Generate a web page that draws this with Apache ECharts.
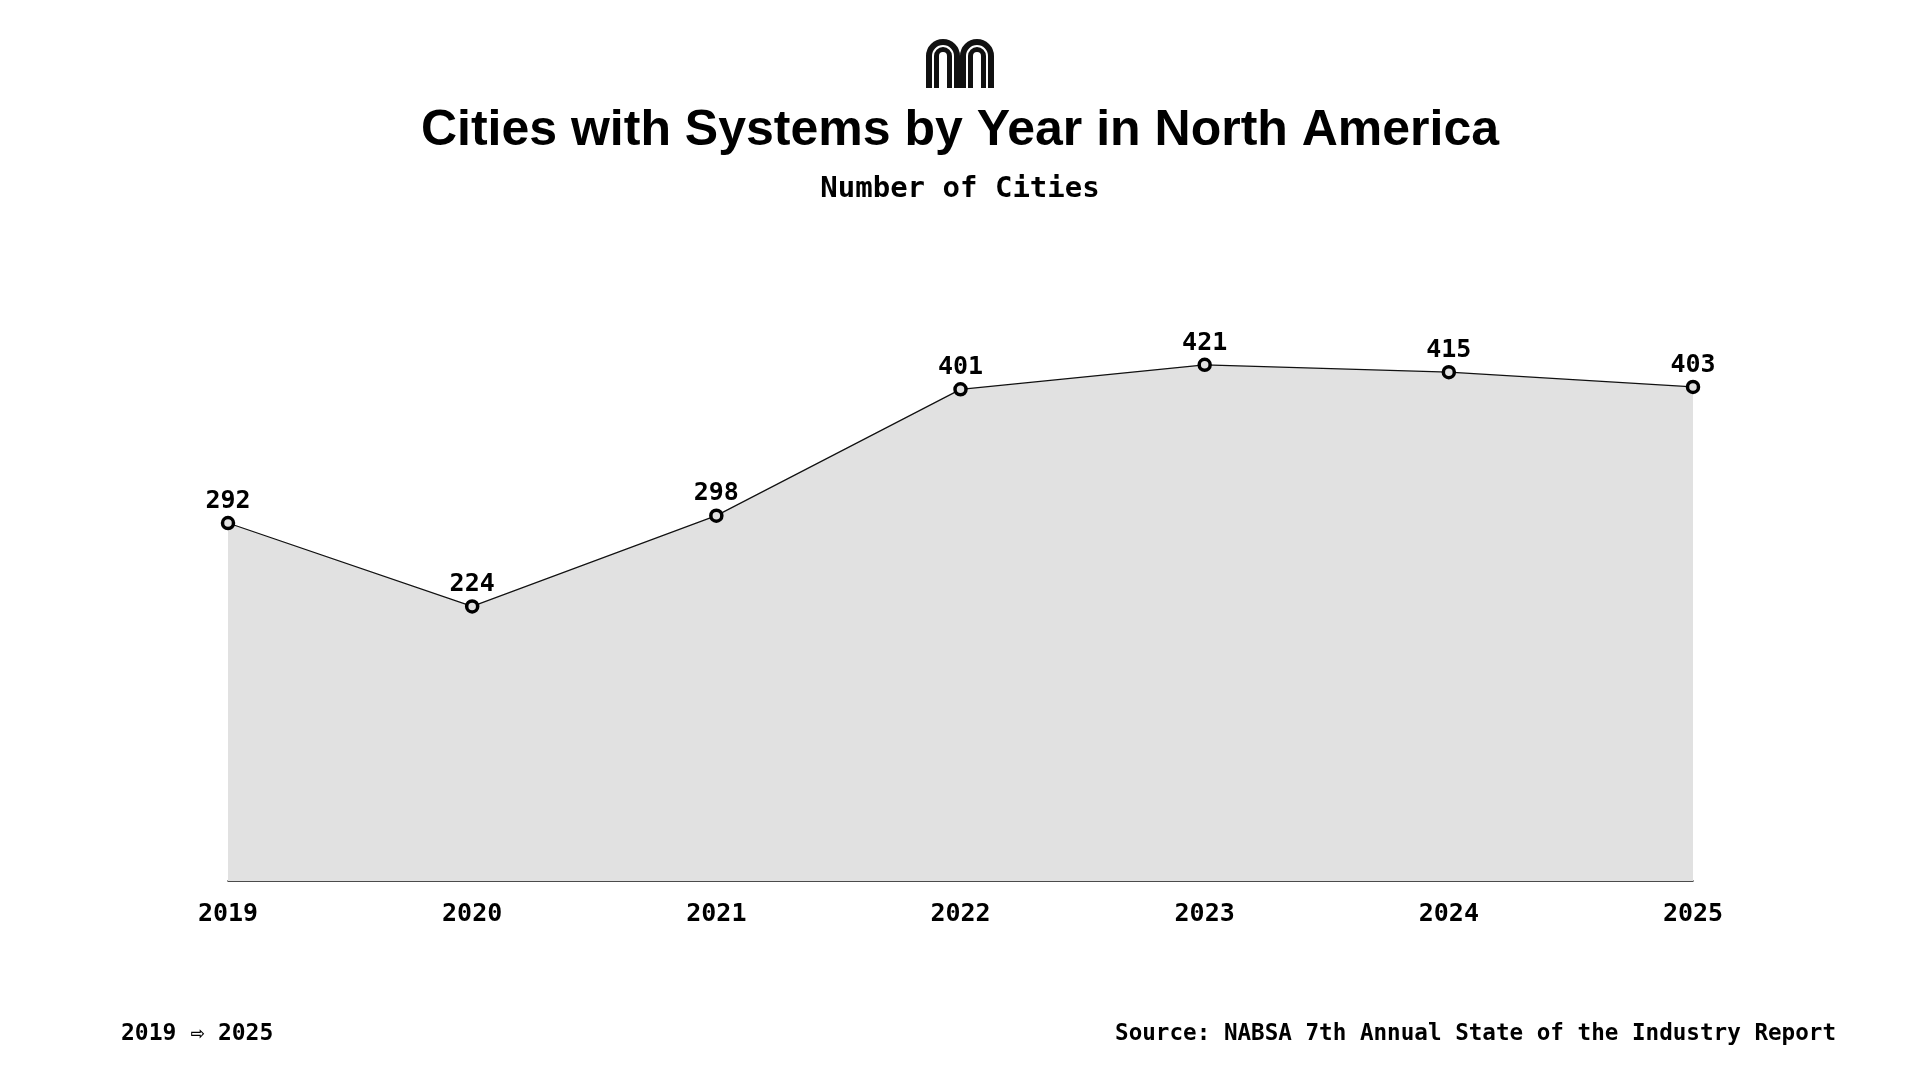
<!DOCTYPE html>
<html>
<head>
<meta charset="utf-8">
<title>Cities with Systems by Year in North America</title>
<script src="https://cdn.jsdelivr.net/npm/echarts@6/dist/echarts.min.js"></script>
<style>
  html, body { margin: 0; padding: 0; background: #fff; }
  #chart { width: 1920px; height: 1080px; }
</style>
</head>
<body>
<div id="chart"></div>
<script>
const years = ['2019', '2020', '2021', '2022', '2023', '2024', '2025'];
const cities = [292, 224, 298, 401, 421, 415, 403];

const mono = '"DejaVu Sans Mono", "Liberation Mono", monospace';
const sans = '"Liberation Sans", Arial, sans-serif';

// logo: two humps, each an outer and an inner arch with legs
function hump(cx, r, w) {
  const style = { fill: null, stroke: '#111', lineWidth: w };
  return [
    { type: 'arc', shape: { cx: cx, cy: 56, r: r, startAngle: Math.PI, endAngle: Math.PI * 2, clockwise: true }, style: style },
    { type: 'line', shape: { x1: cx - r, y1: 56, x2: cx - r, y2: 88 }, style: style },
    { type: 'line', shape: { x1: cx + r, y1: 56, x2: cx + r, y2: 88 }, style: style },
  ];
}

const logo = [].concat(
  hump(943, 14, 6), hump(977, 14, 6),
  hump(943, 6.5, 5), hump(977, 6.5, 5)
);

const chartDom = document.getElementById('chart');
const myChart = echarts.init(chartDom);
const option = {
  backgroundColor: '#fff',
  animation: false,
  grid: {
    left: 228,
    right: 227,
    top: 268,
    bottom: 199,
  },
  xAxis: {
    type: 'category',
    boundaryGap: false,
    data: years,
    axisLine: {
      lineStyle: {
        color: '#111',
        width: 1.5,
      },
    },
    axisTick: { show: false },
    axisLabel: {
      color: '#000',
      fontFamily: mono,
      fontWeight: 'bold',
      fontSize: 25,
      margin: 21,
    },
  },
  yAxis: {
    type: 'value',
    min: 0,
    max: 500,
    show: false,
    splitLine: { show: false },
  },
  series: [
    {
      type: 'line',
      data: cities,
      symbol: 'circle',
      symbolSize: 11,
      lineStyle: {
        color: '#111',
        width: 1.2,
      },
      itemStyle: {
        color: '#e1e1e1',
        borderColor: '#000',
        borderWidth: 3.5,
      },
      areaStyle: {
        color: '#e1e1e1',
        opacity: 1,
      },
      label: {
        show: true,
        position: 'top',
        distance: 2,
        color: '#000',
        fontFamily: mono,
        fontWeight: 'bold',
        fontSize: 25,
      },
    },
  ],
  graphic: logo.concat([
    {
      type: 'text',
      x: 960,
      y: 131,
      style: {
        text: 'Cities with Systems by Year in North America',
        fill: '#000',
        font: 'bold 50px ' + sans,
        align: 'center',
        verticalAlign: 'middle',
      },
    },
    {
      type: 'text',
      x: 960,
      y: 189,
      style: {
        text: 'Number of Cities',
        fill: '#000',
        font: 'bold 29px ' + mono,
        align: 'center',
        verticalAlign: 'middle',
      },
    },
    {
      type: 'text',
      x: 121,
      y: 1034,
      style: {
        text: '2019 ⇨ 2025',
        fill: '#000',
        font: 'bold 23px ' + mono,
        align: 'left',
        verticalAlign: 'middle',
      },
    },
    {
      type: 'text',
      x: 1836,
      y: 1034,
      style: {
        text: 'Source: NABSA 7th Annual State of the Industry Report',
        fill: '#000',
        font: 'bold 22.6px ' + mono,
        align: 'right',
        verticalAlign: 'middle',
      },
    },
  ]),
};

option && myChart.setOption(option);
</script>
</body>
</html>
